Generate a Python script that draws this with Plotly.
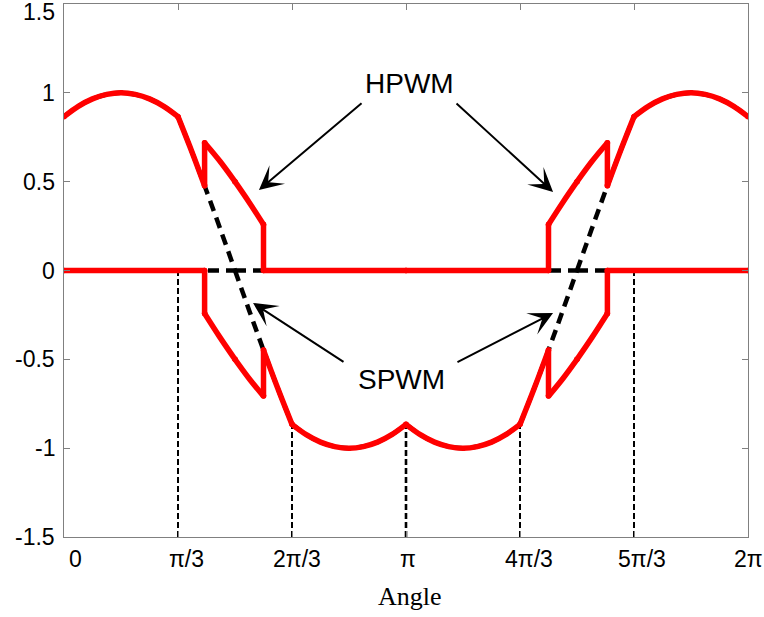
import plotly.graph_objects as go

# Angles in degrees (0..360 maps to 0..2*pi on the axis)
hpwm_up_ang = [0, 7.5, 15, 22.5, 30, 37.5, 45, 52.5, 60, 67.5, 74, 74, 82, 90, 97.5, 105, 105,
               180, 255, 255, 262.5, 270, 278, 286, 286, 292.5, 300, 307.5, 315, 322.5, 330,
               337.5, 345, 352.5, 360]
hpwm_up_val = [0.866, 0.924, 0.966, 0.991, 1.000, 0.991, 0.966, 0.924, 0.866, 0.663, 0.477,
               0.719, 0.616, 0.500, 0.383, 0.259, 0, 0, 0, 0.259, 0.383, 0.500, 0.616, 0.719,
               0.477, 0.663, 0.866, 0.924, 0.966, 0.991, 1.000, 0.991, 0.966, 0.924, 0.866]

hpwm_lo_ang = [0, 74, 74, 82, 90, 97.5, 105, 105, 112.5, 120, 127.5, 135, 142.5, 150, 157.5, 165,
               172.5, 180, 187.5, 195, 202.5, 210, 217.5, 225, 232.5, 240, 247.5, 255, 255,
               262.5, 270, 278, 286, 286, 360]
hpwm_lo_val = [0, 0, -0.242, -0.375, -0.500, -0.609, -0.707, -0.448, -0.663, -0.866, -0.924,
               -0.966, -0.991, -1.000, -0.991, -0.966, -0.924, -0.866, -0.924, -0.966, -0.991,
               -1.000, -0.991, -0.966, -0.924, -0.866, -0.663, -0.448, -0.707, -0.609, -0.500,
               -0.375, -0.242, 0, 0]

spwm_up_ang = [0, 7.5, 15, 22.5, 30, 37.5, 45, 52.5, 60, 67.5, 75, 82.5, 90, 180, 270, 277.5, 285,
               292.5, 300, 307.5, 315, 322.5, 330, 337.5, 345, 352.5, 360]
spwm_up_val = [0.866, 0.924, 0.966, 0.991, 1.000, 0.991, 0.966, 0.924, 0.866, 0.663, 0.448, 0.226,
               0, 0, 0, 0.226, 0.448, 0.663, 0.866, 0.924, 0.966, 0.991, 1.000, 0.991, 0.966,
               0.924, 0.866]

spwm_lo_ang = [0, 90, 97.5, 105, 112.5, 120, 127.5, 135, 142.5, 150, 157.5, 165, 172.5, 180, 187.5,
               195, 202.5, 210, 217.5, 225, 232.5, 240, 247.5, 255, 262.5, 270, 360]
spwm_lo_val = [0, 0, -0.226, -0.448, -0.663, -0.866, -0.924, -0.966, -0.991, -1.000, -0.991,
               -0.966, -0.924, -0.866, -0.924, -0.966, -0.991, -1.000, -0.991, -0.966, -0.924,
               -0.866, -0.663, -0.448, -0.226, 0, 0]

# sector boundaries where the waveform has a kink
kink_ang = [60, 90, 120, 180, 240, 270, 300]

guide_ang = [60, 120, 180, 240, 300]
guide_top = [0, -0.866, -0.866, -0.866, 0]
guide_width = [2, 2, 2.6, 2, 2]

x_tick_vals = [0, 60, 120, 180, 240, 300, 360]
x_tick_text = ["0", "\u03c0/3", "2\u03c0/3", "\u03c0", "4\u03c0/3", "5\u03c0/3", "2\u03c0"]
y_tick_vals = [-1.5, -1, -0.5, 0, 0.5, 1, 1.5]
y_tick_text = ["-1.5", "-1", "-0.5", "0", "0.5", "1", "1.5"]

AX_GRAY = "#808080"
SANS = "Liberation Sans, Arial, sans-serif"
RED_W = 5.5


def pieces(xs, ys):
    """Split a polyline at vertical jumps and sector kinks so each smooth arc
    can be drawn as its own spline."""
    out, cx, cy = [], [xs[0]], [ys[0]]
    for i in range(1, len(xs)):
        cx.append(xs[i]); cy.append(ys[i])
        nxt_jump = i + 1 < len(xs) and xs[i + 1] == xs[i]
        if nxt_jump or xs[i] in kink_ang or xs[i - 1] == xs[i]:
            if len(cx) > 1:
                out.append((cx, cy))
            cx, cy = [xs[i]], [ys[i]]
    if len(cx) > 1:
        out.append((cx, cy))
    return out


fig = go.Figure()

# thin dashed guides dropped from the axis at multiples of pi/3
for a, top, w in zip(guide_ang, guide_top, guide_width):
    fig.add_trace(go.Scatter(x=[a, a], y=[-1.5, top], mode="lines",
                             line=dict(color="black", width=w, dash="6px,3px"),
                             showlegend=False, hoverinfo="skip"))

# SPWM reference (black dashed), drawn beneath the HPWM curves
for xs, ys in [(spwm_up_ang, spwm_up_val), (spwm_lo_ang, spwm_lo_val)]:
    for px, py in pieces(xs, ys):
        fig.add_trace(go.Scatter(x=px, y=py, mode="lines", line_shape="spline",
                                 line=dict(color="black", width=4.5, dash="11px,7px"),
                                 showlegend=False, name="SPWM"))

# HPWM (red); round markers close the joints between pieces
for xs, ys in [(hpwm_up_ang, hpwm_up_val), (hpwm_lo_ang, hpwm_lo_val)]:
    for px, py in pieces(xs, ys):
        fig.add_trace(go.Scatter(x=px, y=py, mode="lines", line_shape="spline",
                                 line=dict(color="#ff0000", width=RED_W),
                                 showlegend=False, name="HPWM"))
        fig.add_trace(go.Scatter(x=[px[0], px[-1]], y=[py[0], py[-1]], mode="markers",
                                 marker=dict(color="#ff0000", size=RED_W, line_width=0),
                                 showlegend=False, hoverinfo="skip"))

annotations = []
# x tick labels
x_label_shift = [11, 8, 5, 2, 9, 8, 0]
for v, t, s in zip(x_tick_vals, x_tick_text, x_label_shift):
    annotations.append(dict(x=v, y=0, xref="x", yref="paper", text=t, showarrow=False,
                            xanchor="center", yanchor="middle", xshift=s, yshift=-22,
                            font=dict(family=SANS, size=23, color="black")))
# y tick labels (top one kept inside the page)
y_label_shift = [0, 0, 0, 0, 0, 0, -8]
for v, t, s in zip(y_tick_vals, y_tick_text, y_label_shift):
    annotations.append(dict(x=0, y=v, xref="paper", yref="y", text=t, showarrow=False,
                            xanchor="right", yanchor="middle", xshift=-7, yshift=s,
                            font=dict(family=SANS, size=23, color="black")))
# axis title
annotations.append(dict(x=180, y=0, xref="x", yref="paper", text="Angle", showarrow=False,
                        xanchor="center", yanchor="middle", xshift=4, yshift=-59,
                        font=dict(family="Liberation Serif, Times New Roman, serif",
                                  size=26, color="black")))
# callout labels
annotations.append(dict(x=182.1, y=1.055, text="HPWM", showarrow=False,
                        font=dict(family=SANS, size=28, color="black")))
annotations.append(dict(x=177.4, y=-0.611, text="SPWM", showarrow=False,
                        font=dict(family=SANS, size=28, color="black")))
# arrows: (head x, head y, tail x, tail y)
arrows = [(102.6, 0.453, 157.4, 0.948),
          (257.4, 0.442, 205.8, 0.948),
          (99.5, -0.183, 147.9, -0.52),
          (257.4, -0.239, 206.3, -0.52)]
for hx, hy, tx, ty in arrows:
    annotations.append(dict(x=hx, y=hy, ax=tx, ay=ty, xref="x", yref="y", axref="x", ayref="y",
                            text="", showarrow=True, arrowhead=3, arrowsize=2.0,
                            arrowwidth=2, arrowcolor="black"))

fig.update_layout(
    width=764, height=617,
    margin=dict(l=64, r=16, t=4, b=80),
    paper_bgcolor="white", plot_bgcolor="white",
    showlegend=False,
    annotations=annotations,
    xaxis=dict(range=[0, 360], tickvals=x_tick_vals, showticklabels=False,
               ticks="inside", ticklen=6, tickcolor=AX_GRAY, showgrid=False, zeroline=False,
               showline=True, linecolor=AX_GRAY, linewidth=1, mirror="allticks"),
    yaxis=dict(range=[-1.5, 1.5], tickvals=y_tick_vals, showticklabels=False,
               ticks="inside", ticklen=6, tickcolor=AX_GRAY, showgrid=False, zeroline=False,
               showline=True, linecolor=AX_GRAY, linewidth=1, mirror="allticks"),
)

fig.write_html("out.html")
